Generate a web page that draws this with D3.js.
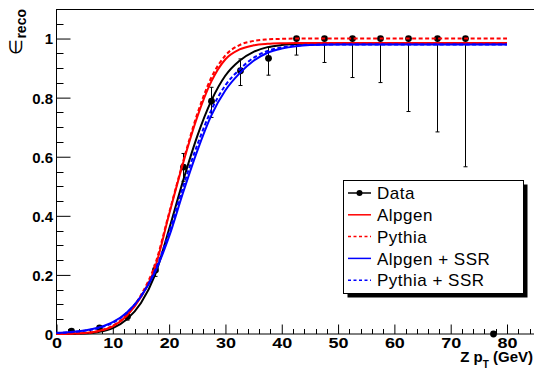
<!DOCTYPE html>
<html><head><meta charset="utf-8">
<script src="https://cdn.jsdelivr.net/npm/d3@7/dist/d3.min.js"></script>
<style>body{margin:0;background:#fff} svg{display:block}</style>
</head><body>
<svg id="c" width="534" height="372"></svg>
<script>
// ---- data ----
const binCenters = [2.5, 7.5, 12.5, 17.5, 22.5, 27.5, 32.5, 37.5, 42.5, 47.5, 52.5, 57.5, 62.5, 67.5, 72.5, 77.5];
const effData    = [0.01, 0.021, 0.059, 0.217, 0.565, 0.788, 0.891, 0.933, 1, 1, 1, 1, 1, 1, 1, 0];
const errLow     = [0.004, 0.005, 0.012, 0.022, 0.048, 0.055, 0.05, 0.057, 0.056, 0.081, 0.132, 0.149, 0.247, 0.316, 0.434, 0];
const errHigh    = [0.004, 0.005, 0.012, 0.016, 0.046, 0.047, 0.04, 0.037, 0, 0, 0, 0, 0, 0, 0, 0];

const curveX    = [0, 2.5, 5, 7.5, 10, 12.5, 15, 17.5, 20, 22.5, 25, 27.5, 30, 32.5, 35, 37.5, 40, 42.5, 45, 50, 80];
const dataFit   = [0, 0.001, 0.002, 0.007, 0.02, 0.05, 0.105, 0.2, 0.355, 0.52, 0.67, 0.79, 0.875, 0.925, 0.955, 0.971, 0.978, 0.981, 0.983, 0.983, 0.983];
const alpgen    = [0, 0.001, 0.003, 0.01, 0.026, 0.062, 0.125, 0.225, 0.405, 0.58, 0.735, 0.855, 0.93, 0.963, 0.977, 0.982, 0.984, 0.985, 0.985, 0.985, 0.985];
const pythia    = [0, 0.001, 0.003, 0.01, 0.028, 0.066, 0.132, 0.235, 0.41, 0.585, 0.745, 0.868, 0.943, 0.978, 0.992, 0.997, 0.999, 1.0, 1.0, 1.0, 1.0];
const alpgenSSR = [0.004, 0.007, 0.012, 0.022, 0.04, 0.073, 0.127, 0.21, 0.33, 0.48, 0.62, 0.74, 0.825, 0.882, 0.925, 0.952, 0.966, 0.974, 0.978, 0.98, 0.98];
const pythiaSSR = [0.003, 0.006, 0.011, 0.02, 0.038, 0.072, 0.128, 0.215, 0.345, 0.5, 0.64, 0.758, 0.842, 0.895, 0.935, 0.958, 0.97, 0.976, 0.979, 0.98, 0.98];

const xTickValues = [0, 10, 20, 30, 40, 50, 60, 70, 80];
const yTickValues = [0, 0.2, 0.4, 0.6, 0.8, 1];
const legendLabels = ["Data", "Alpgen", "Pythia", "Alpgen + SSR", "Pythia + SSR"];

// ---- layout ----
const W = 534, H = 372;
const svg = d3.select("#c");
const x = d3.scaleLinear().domain([0, 80]).range([56.5, 507]);
const y = d3.scaleLinear().domain([0, 1.1]).range([334, 9]);
const FONT = "'Liberation Sans', Arial, Helvetica, sans-serif";

// frame top line
svg.append("line").attr("x1", 56.5).attr("x2", W).attr("y1", 9.5).attr("y2", 9.5)
  .attr("stroke", "#000").attr("stroke-width", 1);

// x axis
const xAxisG = svg.append("g").attr("transform", "translate(0,334)");
xAxisG.append("line").attr("x1", 56.5).attr("x2", W).attr("y1", 0).attr("y2", 0).attr("stroke", "#000");
const xMinor = d3.range(0, 86, 2).filter(v => v % 10 !== 0);
xAxisG.selectAll(".xm").data(xMinor).enter().append("line")
  .attr("x1", d => Math.round(x(d)) + 0.5).attr("x2", d => Math.round(x(d)) + 0.5)
  .attr("y1", 0).attr("y2", -5).attr("stroke", "#000");
const xAxis = d3.axisBottom(x).tickValues(xTickValues).tickSize(0).tickPadding(0).tickFormat(d3.format("d"));
const xa = svg.append("g").attr("transform", "translate(0,334)").call(xAxis);
xa.select(".domain").remove();
xa.selectAll(".tick line").remove();
xa.selectAll(".tick").each(function(d) {
  d3.select(this).append("line").attr("x1", 0).attr("x2", 0).attr("y1", 0).attr("y2", -9.5).attr("stroke", "#000");
});
xa.selectAll(".tick text").attr("dy", null).attr("y", 14.5)
  .attr("transform", "scale(1.2,1)")
  .attr("font-family", FONT).attr("font-weight", "bold").attr("font-size", 15).attr("fill", "#000");

// y axis
svg.append("line").attr("x1", 56.5).attr("x2", 56.5).attr("y1", 9).attr("y2", 334).attr("stroke", "#000");
const yMinor = d3.range(0, 23).map(i => i * 0.05).filter(v => Math.abs(v * 5 - Math.round(v * 5)) > 1e-6);
svg.selectAll(".ym").data(yMinor).enter().append("line")
  .attr("x1", 56.5).attr("x2", 63.5)
  .attr("y1", d => Math.round(y(d)) + 0.5).attr("y2", d => Math.round(y(d)) + 0.5).attr("stroke", "#000");
const yAxis = d3.axisLeft(y).tickValues(yTickValues).tickSize(0).tickPadding(0)
  .tickFormat(d => d === 0 ? "0" : (d === 1 ? "1" : d3.format(".1f")(d)));
const ya = svg.append("g").attr("transform", "translate(56.5,0)").call(yAxis);
ya.select(".domain").remove();
ya.selectAll(".tick line").remove();
ya.selectAll(".tick").each(function() {
  d3.select(this).append("line").attr("x1", 0).attr("x2", 14).attr("y1", 0).attr("y2", 0).attr("stroke", "#000");
});
ya.selectAll(".tick text").attr("x", -3.5).attr("dy", "0.36em")
  .attr("font-family", FONT).attr("font-weight", "bold").attr("font-size", 15).attr("fill", "#000");

// axis titles
const xt = svg.append("text").attr("x", 533).attr("y", 362).attr("text-anchor", "end")
  .attr("font-family", FONT).attr("font-weight", "bold").attr("font-size", 15).attr("fill", "#000");
xt.append("tspan").text("Z p");
xt.append("tspan").attr("font-size", 10).attr("dy", 6).text("T");
xt.append("tspan").attr("dy", -6).text(" (GeV)");

const yt = svg.append("text").attr("transform", "translate(22,9) rotate(-90)").attr("text-anchor", "end")
  .attr("font-family", FONT).attr("fill", "#000");
yt.append("tspan").attr("font-size", 18).text("∈");
yt.append("tspan").attr("font-size", 14).attr("font-weight", "bold").attr("dy", 4).text("reco");

// ---- data points with error bars ----
const pts = binCenters.map((c, i) => ({x: c, v: effData[i], lo: errLow[i], hi: errHigh[i]}));
const eg = svg.append("g");
pts.forEach(p => {
  const px = Math.round(x(p.x)) + 0.5;
  if (p.lo > 0) {
    const y0 = y(p.v - p.lo), y1 = y(p.v + p.hi);
    eg.append("line").attr("x1", px).attr("x2", px).attr("y1", y0).attr("y2", y1).attr("stroke", "#000");
    eg.append("line").attr("x1", px - 2).attr("x2", px + 2).attr("y1", y0).attr("y2", y0).attr("stroke", "#000");
    if (p.hi > 0) eg.append("line").attr("x1", px - 2).attr("x2", px + 2).attr("y1", y1).attr("y2", y1).attr("stroke", "#000");
  }
});
svg.selectAll(".pt").data(pts).enter().append("circle")
  .attr("cx", d => Math.round(x(d.x)) + 0.5).attr("cy", d => y(d.v)).attr("r", 3.4).attr("fill", "#000");

// ---- fitted curves ----
const line = d3.line().x(d => x(d[0])).y(d => y(d[1])).curve(d3.curveMonotoneX);
const curves = [
  {vals: dataFit,   color: "#000",    dash: null},
  {vals: alpgen,    color: "#ff0000", dash: null},
  {vals: pythia,    color: "#ff0000", dash: "4,2.5"},
  {vals: alpgenSSR, color: "#0000ff", dash: null},
  {vals: pythiaSSR, color: "#0000ff", dash: "4,2.5"}
];
curves.forEach(c => {
  svg.append("path").datum(curveX.map((xv, i) => [xv, c.vals[i]]))
    .attr("d", line).attr("fill", "none").attr("stroke", c.color).attr("stroke-width", 2)
    .attr("stroke-dasharray", c.dash);
});

// ---- legend ----
const lg = svg.append("g");
lg.append("rect").attr("x", 347.5).attr("y", 184.5).attr("width", 180).attr("height", 113).attr("fill", "#000");
lg.append("rect").attr("x", 343.5).attr("y", 180.5).attr("width", 180).attr("height", 113)
  .attr("fill", "#fff").attr("stroke", "#000").attr("stroke-width", 1);
const legendStyles = [
  {color: "#000", dash: null, marker: true},
  {color: "#ff0000", dash: null},
  {color: "#ff0000", dash: "3,2.5"},
  {color: "#0000ff", dash: null},
  {color: "#0000ff", dash: "3,2.5"}
];
legendLabels.forEach((lab, i) => {
  const yy = 193 + i * 21.8;
  const s = legendStyles[i];
  lg.append("line").attr("x1", 348).attr("x2", 371).attr("y1", yy).attr("y2", yy)
    .attr("stroke", s.color).attr("stroke-width", 1.5).attr("stroke-dasharray", s.dash);
  if (s.marker) lg.append("circle").attr("cx", 359.5).attr("cy", yy).attr("r", 3).attr("fill", "#000");
  lg.append("text").attr("x", 377).attr("y", yy).attr("dy", "0.36em")
    .attr("font-family", FONT).attr("font-size", 17).attr("letter-spacing", 0.5).attr("fill", "#000").text(lab);
});
</script>
</body></html>
